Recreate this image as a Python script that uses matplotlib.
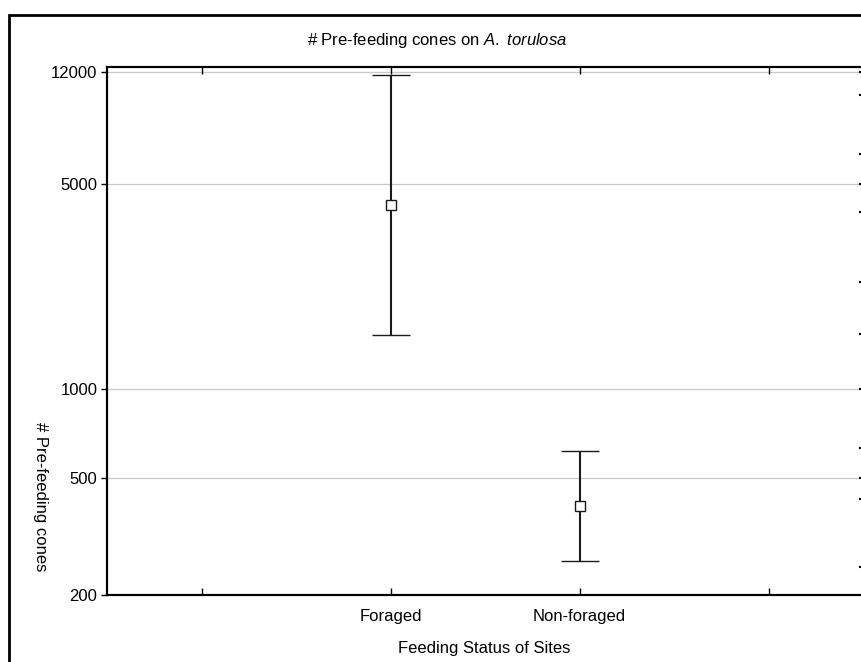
import matplotlib
matplotlib.use("Agg")
import matplotlib.pyplot as plt
from matplotlib.patches import Rectangle

# data (log scale)
kategorier = ["Foraged", "Non-foraged"]
gjennomsnitt = [4250, 403]
nedre = [1530, 261]
ovre = [11700, 620]

y_ticks = [200, 500, 1000, 5000, 12000]
y_grid = [500, 1000, 5000, 12000]
hoyre_ticks = [200, 250, 425, 500, 630, 1000, 1550, 2320, 4000, 5000, 6300, 10000, 12000]

plt.rcParams['font.family'] = ['Liberation Sans', 'DejaVu Sans']
plt.rcParams['mathtext.fontset'] = 'custom'
plt.rcParams['mathtext.rm'] = 'Liberation Sans'
plt.rcParams['mathtext.it'] = 'Liberation Sans:italic'

W, H = 862, 662
fig = plt.figure(figsize=(W / 100, H / 100), dpi=100)

# axes placed in pixel terms
venstre, hoyre, topp, bunn = 107, 863, 67, 595
ax = fig.add_axes([venstre / W, 1 - bunn / H, (hoyre - venstre) / W, (bunn - topp) / H])

x_pos = [1, 2]
feil_ned = [m - l for m, l in zip(gjennomsnitt, nedre)]
feil_opp = [u - m for m, u in zip(gjennomsnitt, ovre)]
ax.errorbar(x_pos, gjennomsnitt, yerr=[feil_ned, feil_opp], fmt='s',
            color='#1a1a1a', ecolor='#1a1a1a', elinewidth=1.5, capsize=13.7,
            capthick=1.5, markersize=6.5, markerfacecolor='white',
            markeredgecolor='#1a1a1a', markeredgewidth=1.0, zorder=3)

ax.set_yscale('log')
ax.set_ylim(200, 12500)
ax.set_xlim(-0.5, 3.5)

for g in y_grid:
    ax.axhline(g, color='#c8c8c8', linewidth=0.9, zorder=1)

ax.set_yticks(y_ticks)
ax.set_yticklabels([str(t) for t in y_ticks])
ax.minorticks_off()
ax.tick_params(axis='y', which='major', direction='out', length=4, width=1,
               labelsize=12, pad=3)

ax.set_xticks([0, 1, 2, 3])
ax.set_xticklabels(["", kategorier[0], kategorier[1], ""])
ax.tick_params(axis='x', direction='in', length=5, width=1, labelsize=12,
               top=True, pad=10)

# right-hand ticks
ax2 = ax.twinx()
ax2.set_yscale('log')
ax2.set_ylim(ax.get_ylim())
ax2.set_yticks(hoyre_ticks)
ax2.minorticks_off()
ax2.tick_params(axis='y', direction='in', length=3, width=1.5, labelright=False)

for a in (ax, ax2):
    for s in a.spines.values():
        s.set_linewidth(1.5)
        s.set_color('black')

fig.text(437 / W, 1 - 41 / H, r'# Pre-feeding cones on $\it{A.}$ $\it{torulosa}$',
         ha='center', va='center', fontsize=12)
fig.text(484 / W, 1 - 648 / H, "Feeding Status of Sites", ha='center',
         va='center', fontsize=12)
fig.text(40 / W, 1 - 497 / H, "# Pre-feeding cones", rotation=270,
         ha='center', va='center', fontsize=12)

# outer frame
fig.patches.append(Rectangle((9 / W, -0.1), 1.2, 1 - 15 / H + 0.1,
                             transform=fig.transFigure, fill=False,
                             edgecolor='black', linewidth=2))

fig.savefig("out.png", dpi=100)
